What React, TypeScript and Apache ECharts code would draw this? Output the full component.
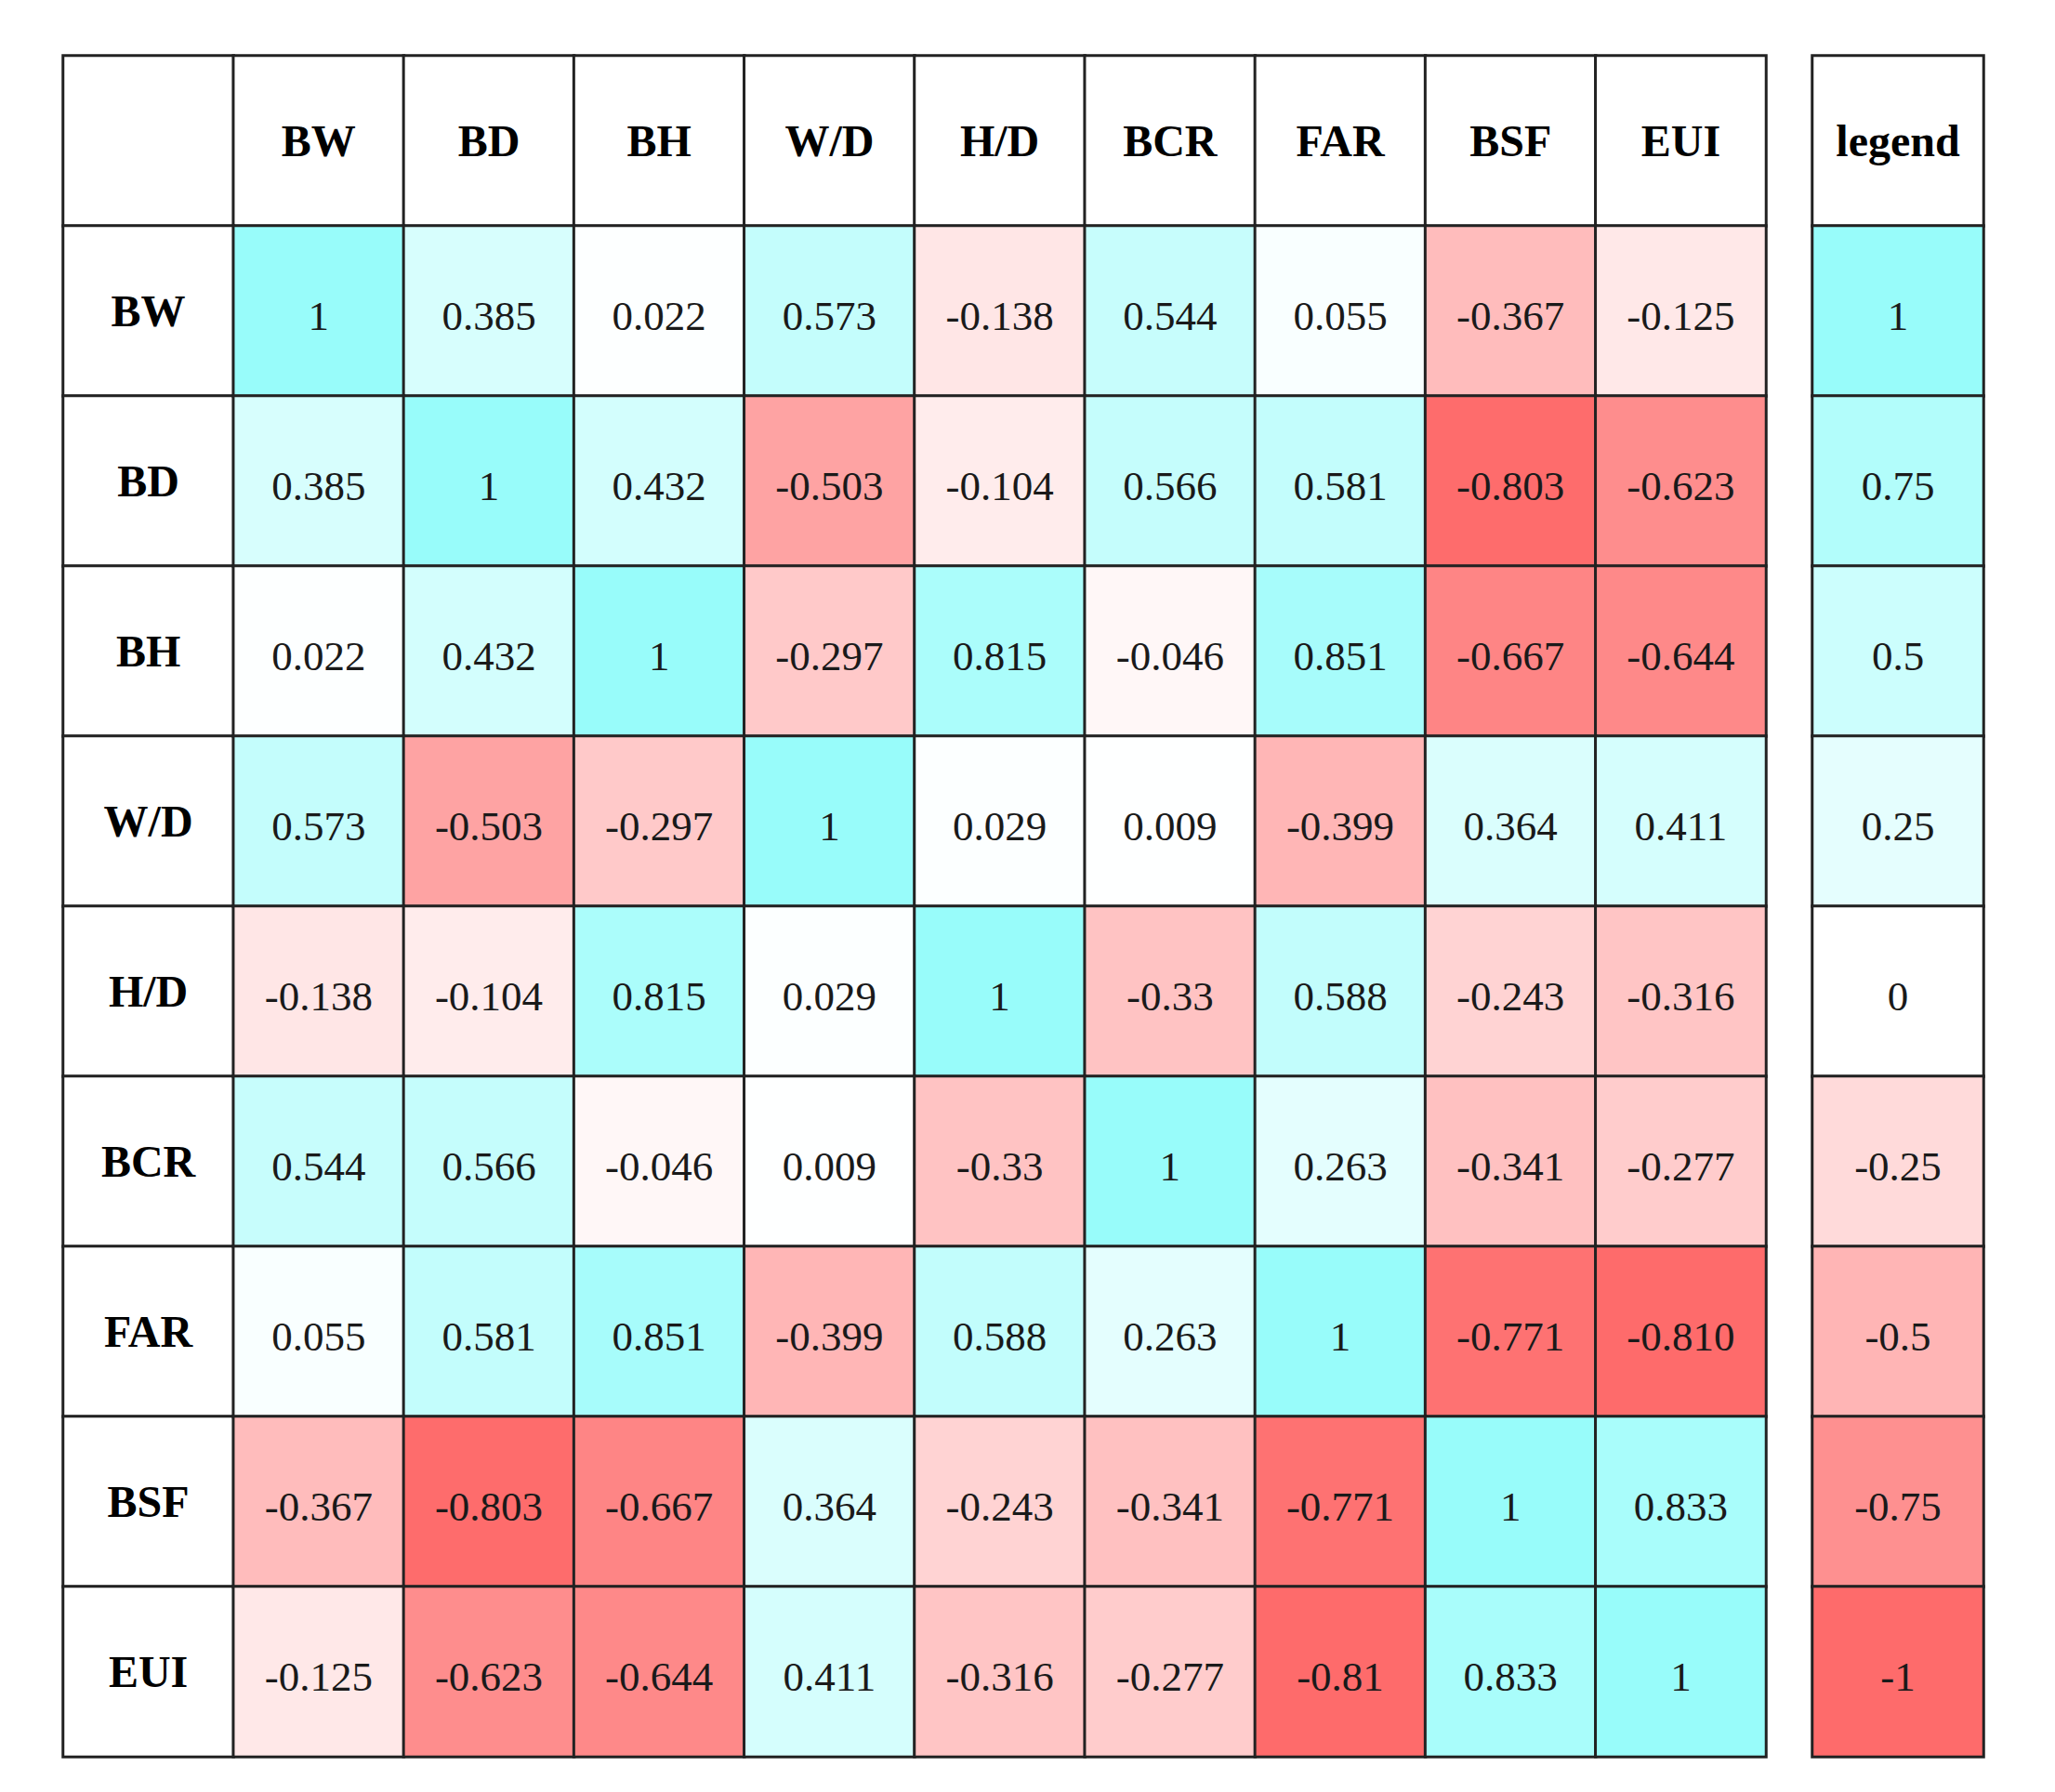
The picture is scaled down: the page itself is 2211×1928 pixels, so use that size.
import React, { useEffect, useRef } from "react";
import * as echarts from "echarts";

const variables = ["BW", "BD", "BH", "W/D", "H/D", "BCR", "FAR", "BSF", "EUI"];

const rowBW = ["1", "0.385", "0.022", "0.573", "-0.138", "0.544", "0.055", "-0.367", "-0.125"];
const rowBD = ["0.385", "1", "0.432", "-0.503", "-0.104", "0.566", "0.581", "-0.803", "-0.623"];
const rowBH = ["0.022", "0.432", "1", "-0.297", "0.815", "-0.046", "0.851", "-0.667", "-0.644"];
const rowWD = ["0.573", "-0.503", "-0.297", "1", "0.029", "0.009", "-0.399", "0.364", "0.411"];
const rowHD = ["-0.138", "-0.104", "0.815", "0.029", "1", "-0.33", "0.588", "-0.243", "-0.316"];
const rowBCR = ["0.544", "0.566", "-0.046", "0.009", "-0.33", "1", "0.263", "-0.341", "-0.277"];
const rowFAR = ["0.055", "0.581", "0.851", "-0.399", "0.588", "0.263", "1", "-0.771", "-0.810"];
const rowBSF = ["-0.367", "-0.803", "-0.667", "0.364", "-0.243", "-0.341", "-0.771", "1", "0.833"];
const rowEUI = ["-0.125", "-0.623", "-0.644", "0.411", "-0.316", "-0.277", "-0.81", "0.833", "1"];

const matrixRows = [rowBW, rowBD, rowBH, rowWD, rowHD, rowBCR, rowFAR, rowBSF, rowEUI];

const legendTitle = "legend";
const legendLabels = ["1", "0.75", "0.5", "0.25", "0", "-0.25", "-0.5", "-0.75", "-1"];

const RED = "#FE6B6B";
const CYAN = "#98FCFA";

export default function App() {
  const ref = useRef<HTMLDivElement>(null);

  useEffect(() => {
    document.body.style.margin = "0";
    if (!ref.current) return;
    const chart = echarts.init(ref.current, null, { renderer: "svg" });

    const allVals = matrixRows.flat().map((s) => parseFloat(s));
    const dataMin = Math.min(...allVals);
    const dataMax = Math.max(...allVals);

    const headerData: any[] = [];
    headerData.push({ value: [0, 0, 0], name: "" });
    variables.forEach((v, i) => {
      headerData.push({ value: [i + 1, 0, 0], name: v });
      headerData.push({ value: [0, i + 1, 0], name: v });
    });

    const cellData: any[] = [];
    matrixRows.forEach((row, r) => {
      row.forEach((s, c) => {
        const v = parseFloat(s);
        const cv = v < 0 ? v / Math.abs(dataMin) : v / dataMax;
        cellData.push({ value: [c + 1, r + 1, v, cv], name: s });
      });
    });

    const legendHeader = [{ value: [0, 0, 0], name: legendTitle }];
    const legendData = legendLabels.map((s, i) => {
      const v = parseFloat(s);
      return { value: [0, i + 1, v, v], name: s };
    });

    const idx10 = Array.from({ length: 10 }, (_, i) => String(i));

    const border = { borderColor: "#222", borderWidth: 3 };
    const headerLabel = {
      show: true,
      formatter: (p: any) => p.name,
      fontFamily: "Liberation Serif",
      fontWeight: "bold" as const,
      fontSize: 48,
      color: "#000",
    };
    const valueLabel = {
      show: true,
      formatter: (p: any) => p.name,
      fontFamily: "Liberation Serif",
      fontSize: 45,
      color: "#1a1a1a",
      offset: [0, 5],
    };

    chart.setOption({
      animation: false,
      backgroundColor: "#ffffff",
      grid: [
        { left: 68, top: 60, width: 1832, height: 1830 },
        { left: 1950, top: 60, width: 184, height: 1830 },
      ],
      xAxis: [
        { type: "category", data: idx10, gridIndex: 0, show: false },
        { type: "category", data: ["0"], gridIndex: 1, show: false },
      ],
      yAxis: [
        { type: "category", data: idx10, gridIndex: 0, inverse: true, show: false },
        { type: "category", data: idx10, gridIndex: 1, inverse: true, show: false },
      ],
      visualMap: [
        {
          type: "continuous",
          show: false,
          seriesIndex: [1, 3],
          dimension: 3,
          min: -1,
          max: 1,
          inRange: { color: [RED, "#FFFFFF", CYAN] },
        },
        {
          type: "continuous",
          show: false,
          seriesIndex: [0, 2],
          dimension: 2,
          min: 0,
          max: 1,
          inRange: { color: ["#FFFFFF", "#FFFFFF"] },
        },
      ],
      series: [
        {
          type: "heatmap",
          xAxisIndex: 0,
          yAxisIndex: 0,
          data: headerData,
          itemStyle: { color: "#fff", ...border },
          label: headerLabel,
          emphasis: { disabled: true },
        },
        {
          type: "heatmap",
          xAxisIndex: 0,
          yAxisIndex: 0,
          data: cellData,
          itemStyle: { ...border },
          label: valueLabel,
          emphasis: { disabled: true },
        },
        {
          type: "heatmap",
          xAxisIndex: 1,
          yAxisIndex: 1,
          data: legendHeader,
          itemStyle: { color: "#fff", ...border },
          label: headerLabel,
          emphasis: { disabled: true },
        },
        {
          type: "heatmap",
          xAxisIndex: 1,
          yAxisIndex: 1,
          data: legendData,
          itemStyle: { ...border },
          label: valueLabel,
          emphasis: { disabled: true },
        },
      ],
    });

    return () => {
      chart.dispose();
    };
  }, []);

  return <div ref={ref} style={{ width: 2211, height: 1928 }} />;
}
